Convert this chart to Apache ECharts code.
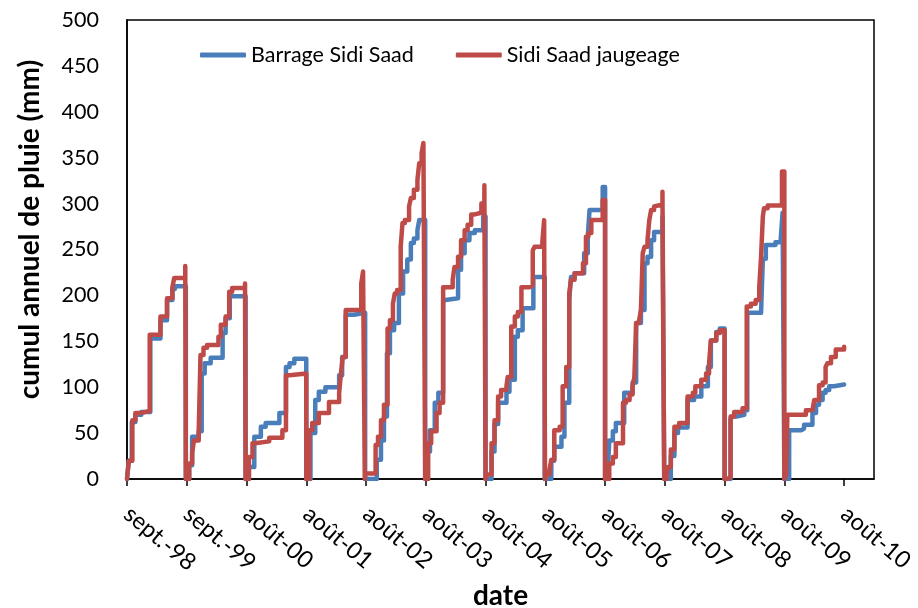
<!DOCTYPE html>
<html>
<head>
<meta charset="utf-8">
<script src="https://cdn.jsdelivr.net/npm/echarts@6/dist/echarts.min.js"></script>
<style>html,body{margin:0;padding:0;background:#fff}#c{width:918px;height:608px}</style>
</head>
<body>
<div id="c"></div>
<script>
// x positions: years elapsed since sept.-98 (0 = sept.-98, 1 = sept.-99, ...)
var xTickValues = [0,1,2,3,4,5,6,7,8,9,10,11,12];
var xTickLabels = ['sept.-98','sept.-99','août-00','août-01','août-02','août-03','août-04','août-05','août-06','août-07','août-08','août-09','août-10'];
var seriesNames = ['Barrage Sidi Saad','Sidi Saad jaugeage'];

// Barrage Sidi Saad (cumulative annual rainfall, mm)
var barrageX = [
  0,0.03,0.08,0.14,0.24,0.39,0.56,0.67,0.76,0.80,0.985,
  1.04,1.09,1.20,1.25,1.30,1.40,1.60,1.65,1.72,1.985,
  2.04,2.13,2.24,2.32,2.55,2.66,2.72,2.80,3.0,
  3.07,3.15,3.21,3.32,3.55,3.60,3.66,3.80,3.985,
  4.18,4.25,4.30,4.35,4.40,4.47,4.55,4.62,4.69,4.75,4.80,4.86,4.89,4.99,
  5.03,5.07,5.15,5.21,5.29,5.33,5.54,5.59,5.65,5.73,5.82,5.96,6.0,
  6.10,6.15,6.21,6.35,6.40,6.49,6.54,6.62,6.80,6.99,
  7.05,7.10,7.15,7.27,7.32,7.40,7.43,7.49,7.65,7.71,7.74,7.96,8.0,
  8.04,8.07,8.13,8.18,8.32,8.46,8.52,8.60,8.66,8.71,8.77,8.82,8.96,8.99,
  9.05,9.10,9.16,9.22,9.38,9.49,9.61,9.72,9.77,9.86,9.92,10.0,
  10.05,10.10,10.13,10.20,10.33,10.38,10.61,10.64,10.69,10.85,10.94,10.97,11.0,
  11.04,11.08,11.28,11.33,11.47,11.53,11.58,11.64,11.69,11.75,11.83,12.0
];
var barrageY = [
  0,20,62,70,73,153,173,195,207,210,0,
  15,46,52,115,126,132,159,175,199,0,
  13,46,57,61,72,122,126,131,0,
  50,86,95,100,113,133,179,181,0,
  21,42,68,137,162,170,202,226,239,257,262,271,282,0,
  30,53,83,94,195,197,228,246,260,268,271,286,0,
  30,60,83,95,108,155,162,186,220,0,
  0,20,35,46,83,195,220,224,246,264,293,318,0,
  0,42,52,61,94,105,170,184,235,242,260,269,286,0,
  0,25,50,56,86,90,101,122,151,160,164,0,
  0,65,68,70,75,181,182,240,255,258,262,290,0,
  0,53,55,59,72,81,86,94,97,101,103,103
];

// Sidi Saad jaugeage (cumulative annual rainfall, mm)
var jaugeageX = [
  0,0.03,0.09,0.14,0.24,0.38,0.56,0.67,0.76,0.79,0.975,0.985,
  1.04,1.09,1.12,1.20,1.23,1.28,1.34,1.53,1.57,1.65,1.71,1.76,1.975,1.985,
  2.04,2.10,2.14,2.38,2.60,2.66,2.72,3.0,
  3.05,3.10,3.21,3.38,3.55,3.58,3.61,3.66,3.92,3.95,3.98,
  3.99,4.16,4.20,4.25,4.30,4.36,4.40,4.45,4.48,4.52,4.58,4.61,4.65,4.72,4.75,4.80,4.86,4.89,4.93,4.96,4.99,
  5.04,5.09,5.18,5.23,5.29,5.45,5.48,5.54,5.59,5.65,5.70,5.76,5.80,5.93,5.98,6.0,
  6.02,6.10,6.15,6.21,6.26,6.35,6.37,6.43,6.49,6.54,6.60,6.74,6.79,6.82,6.95,6.98,6.995,
  7.02,7.07,7.10,7.15,7.24,7.29,7.35,7.40,7.43,7.49,7.63,7.68,7.72,7.77,7.96,8.0,
  8.07,8.13,8.18,8.30,8.35,8.41,8.46,8.49,8.52,8.57,8.60,8.63,8.66,8.71,8.74,8.77,8.82,8.85,8.96,8.99,
  9.03,9.05,9.10,9.16,9.24,9.38,9.47,9.51,9.61,9.69,9.74,9.77,9.86,9.92,10.0,
  10.05,10.10,10.16,10.30,10.37,10.44,10.52,10.58,10.61,10.64,10.66,10.72,10.96,11.0,
  11.03,11.05,11.30,11.36,11.47,11.50,11.58,11.64,11.69,11.72,11.78,11.86,12.0
];
var jaugeageY = [
  0,20,64,72,74,157,177,197,209,219,232,0,
  17,28,42,52,135,143,146,155,168,177,204,208,213,0,
  24,39,41,45,53,113,115,0,
  53,61,72,84,94,115,133,184,213,226,0,
  6,37,46,64,81,164,173,191,202,206,253,279,282,297,306,315,326,344,355,366,0,
  39,52,72,83,209,217,231,242,260,271,277,288,290,300,320,0,
  5,39,64,90,97,101,111,166,177,182,209,211,249,253,258,282,0,
  5,10,21,53,57,101,122,202,217,224,235,264,268,282,304,0,
  17,24,39,83,86,92,101,111,170,173,184,246,253,260,282,293,297,299,313,0,
  5,13,32,57,61,90,94,101,108,115,126,151,159,162,0,
  2,68,73,77,188,191,195,209,242,286,295,298,335,0,
  5,70,70,75,77,86,102,105,122,126,133,141,144,144
];

function pairs(xs, ys){ return xs.map(function(x,i){ return [x, ys[i]]; }); }

var FONT = 'Lato, "Open Sans", sans-serif';
var chart = echarts.init(document.getElementById('c'), null, {renderer:'canvas'});
chart.setOption({
  animation: false,
  backgroundColor: '#fff',
  grid: {left:127, top:20, right:44, bottom:129, show:true, borderColor:'#000', borderWidth:1.5,
         containLabel:false, outerBoundsMode:'none'},
  legend: {
    left: 195, top: 39, itemWidth: 46, itemHeight: 5, itemGap: 42,
    icon: 'roundRect',
    textStyle: {fontFamily: FONT, fontSize: 21.5, color:'#000'},
    data: seriesNames
  },
  xAxis: {
    type: 'value', min: 0, max: 12.5, interval: 1,
    name: 'date', nameLocation: 'middle', nameGap: 100,
    nameTextStyle: {fontFamily: FONT, fontSize: 28, fontWeight: 'bold', color:'#000'},
    axisLine: {show:true, onZero:false, lineStyle:{color:'#000', width:1.5}},
    axisTick: {show:true, length:7, lineStyle:{color:'#000', width:1.5}, customValues: xTickValues},
    axisLabel: {
      customValues: xTickValues,
      rotate: -40, margin: 32, fontFamily: FONT, fontSize: 23.5, color:'#000',
      formatter: function(v){ var i = xTickValues.indexOf(Math.round(v)); return (Math.abs(v-Math.round(v))<1e-6 && i>=0) ? xTickLabels[i] : ''; }
    },
    splitLine: {show:false}
  },
  yAxis: {
    type: 'value', min: 0, max: 500, interval: 50,
    name: 'cumul annuel de pluie (mm)', nameLocation: 'middle', nameGap: 83,
    nameTextStyle: {fontFamily: FONT, fontSize: 28, fontWeight: 'bold', color:'#000', padding:[0,0,0,40]},
    axisLine: {show:true, lineStyle:{color:'#000', width:1.5}},
    axisTick: {show:false},
    axisLabel: {margin: 28, fontFamily: FONT, fontSize: 21.5, color:'#000'},
    splitLine: {show:false}
  },
  series: [
    {name: seriesNames[0], type:'line', step:'end', showSymbol:false, symbol:'none',
     data: pairs(barrageX, barrageY), color:'#4A7EBB',
     lineStyle:{color:'#4A7EBB', width:4.5, cap:'round', join:'round'}},
    {name: seriesNames[1], type:'line', step:'end', showSymbol:false, symbol:'none',
     data: pairs(jaugeageX, jaugeageY), color:'#BE4B48',
     lineStyle:{color:'#BE4B48', width:4.5, cap:'round', join:'round'}}
  ]
});
</script>
</body>
</html>
